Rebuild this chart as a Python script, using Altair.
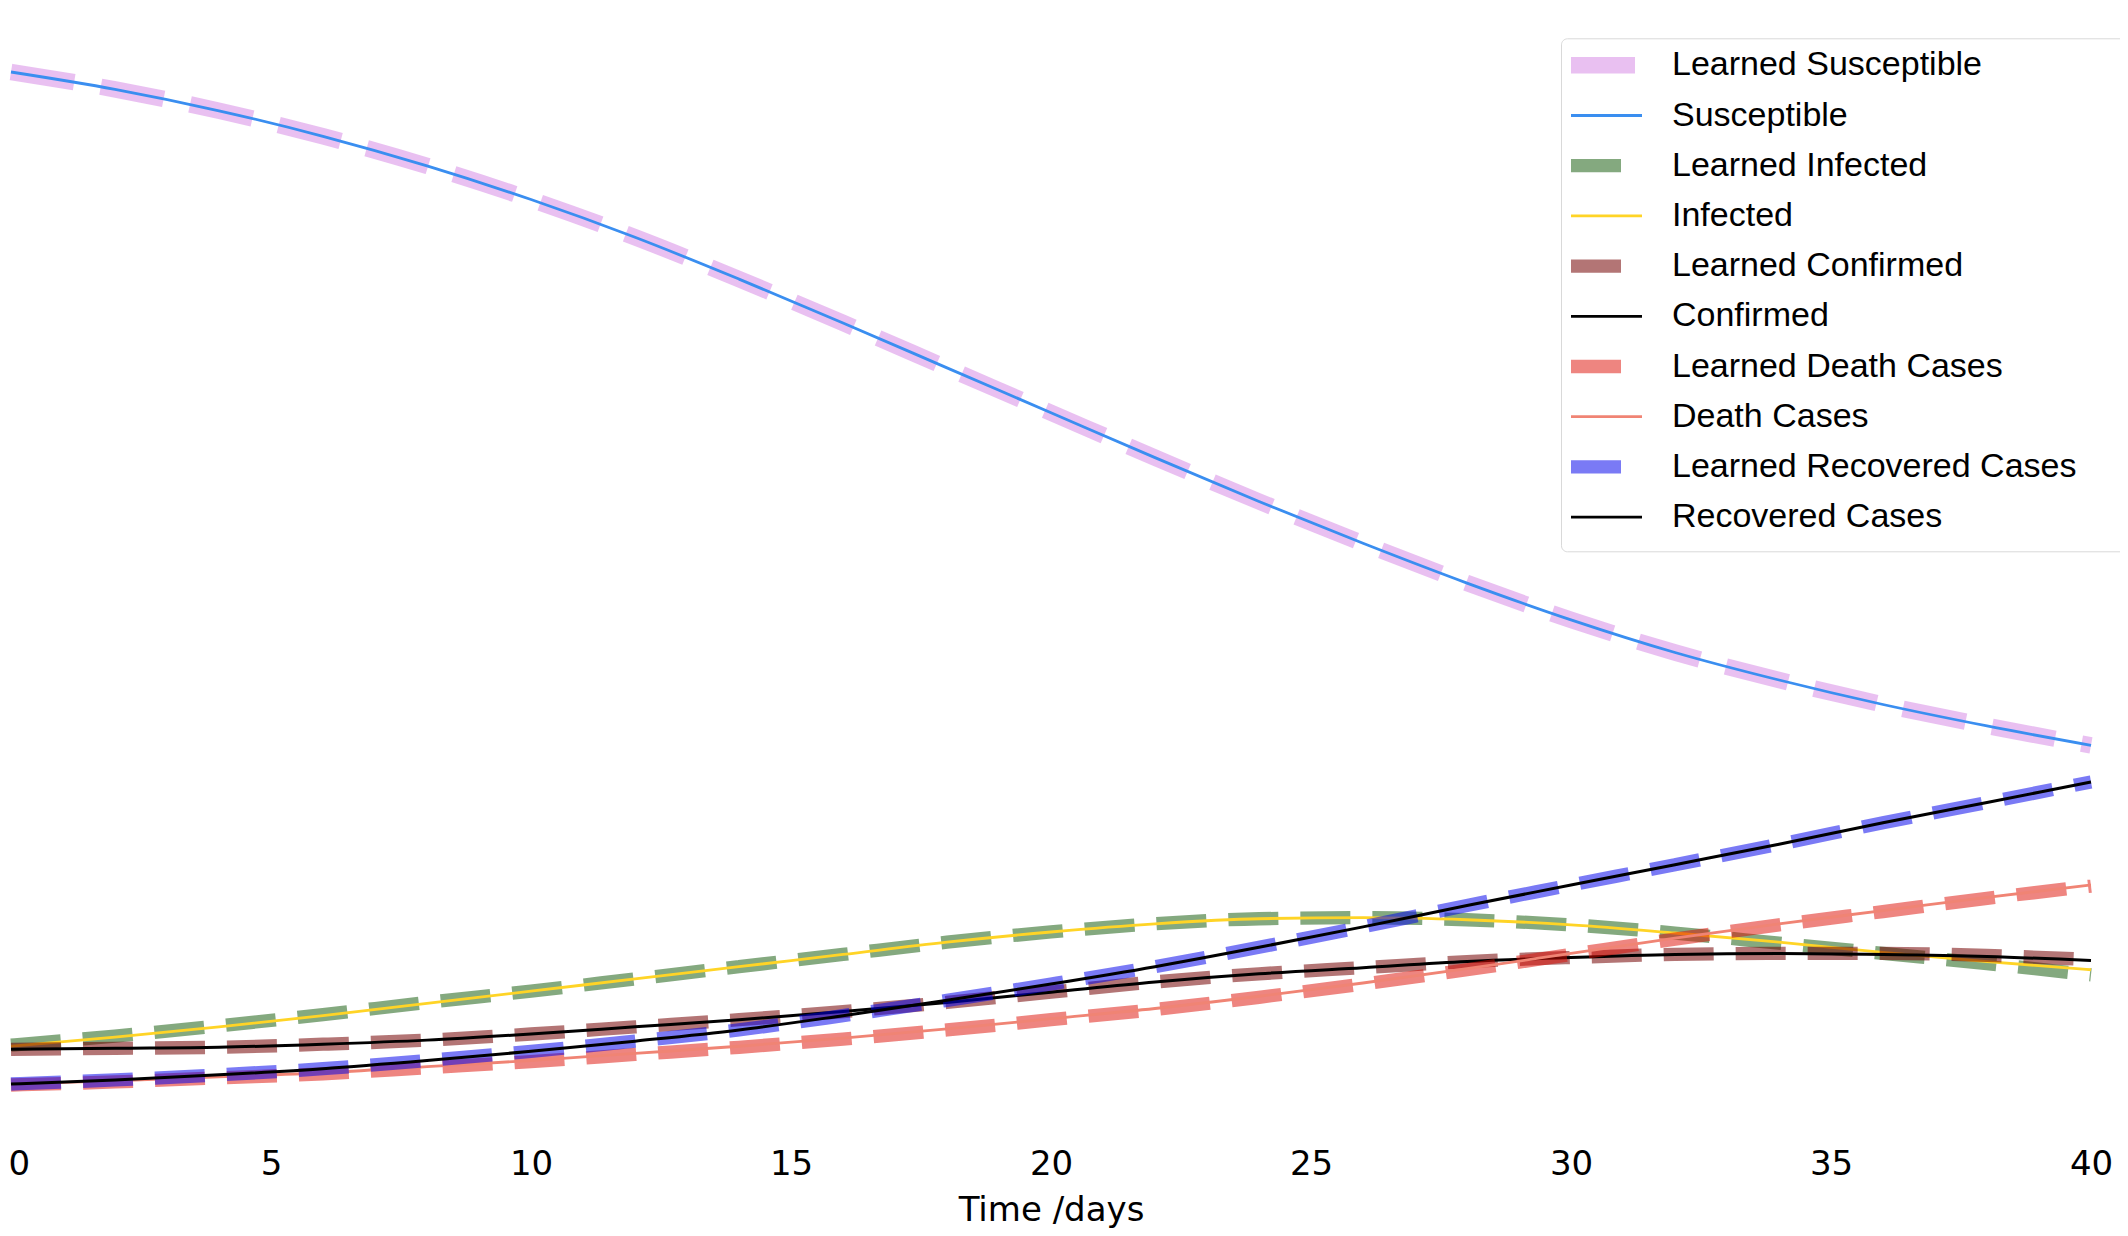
import json
import altair as alt
import pandas as pd

# ---------------- data ----------------
days = [0, 2, 4, 6, 8, 10, 12, 14, 16, 18, 20, 22, 24, 26, 28, 30, 32, 34, 36, 38, 40]

susceptible = [1.000, 0.983, 0.962, 0.937, 0.908, 0.875, 0.838, 0.797, 0.754, 0.710, 0.666,
               0.622, 0.579, 0.538, 0.499, 0.463, 0.431, 0.404, 0.380, 0.359, 0.340]
learned_susceptible = [1.000, 0.983, 0.962, 0.937, 0.908, 0.875, 0.838, 0.797, 0.754, 0.710, 0.666,
                       0.622, 0.579, 0.538, 0.499, 0.463, 0.431, 0.404, 0.380, 0.359, 0.340]

infected = [0.045, 0.054, 0.064, 0.075, 0.087, 0.099, 0.111, 0.123, 0.135, 0.147, 0.157,
            0.165, 0.170, 0.171, 0.169, 0.164, 0.156, 0.147, 0.137, 0.128, 0.120]
learned_infected = [0.046, 0.055, 0.065, 0.076, 0.088, 0.099, 0.111, 0.123, 0.135, 0.147, 0.157,
                    0.165, 0.170, 0.171, 0.169, 0.164, 0.156, 0.146, 0.136, 0.126, 0.115]

confirmed = [0.042, 0.043, 0.044, 0.047, 0.051, 0.057, 0.064, 0.071, 0.079, 0.088, 0.098,
             0.108, 0.116, 0.122, 0.128, 0.132, 0.135, 0.136, 0.135, 0.133, 0.129]
learned_confirmed = [0.042, 0.043, 0.044, 0.047, 0.051, 0.057, 0.064, 0.071, 0.079, 0.088, 0.098,
                     0.108, 0.116, 0.122, 0.128, 0.132, 0.135, 0.136, 0.136, 0.134, 0.130]

death = [0.008, 0.011, 0.015, 0.019, 0.025, 0.031, 0.038, 0.045, 0.053, 0.062, 0.072,
         0.082, 0.094, 0.107, 0.121, 0.136, 0.151, 0.165, 0.178, 0.191, 0.203]
learned_death = [0.007, 0.010, 0.014, 0.018, 0.024, 0.030, 0.037, 0.044, 0.052, 0.061, 0.071,
                 0.081, 0.093, 0.106, 0.120, 0.135, 0.150, 0.164, 0.177, 0.190, 0.202]

recovered = [0.008, 0.012, 0.017, 0.023, 0.031, 0.040, 0.050, 0.061, 0.075, 0.090, 0.106,
             0.123, 0.142, 0.162, 0.183, 0.203, 0.223, 0.243, 0.264, 0.284, 0.304]
learned_recovered = [0.008, 0.012, 0.017, 0.023, 0.031, 0.040, 0.050, 0.061, 0.075, 0.090, 0.106,
                     0.123, 0.142, 0.162, 0.183, 0.203, 0.223, 0.243, 0.264, 0.284, 0.304]

series_names = ["Learned Susceptible", "Susceptible", "Learned Infected", "Infected",
                "Learned Confirmed", "Confirmed", "Learned Death Cases", "Death Cases",
                "Learned Recovered Cases", "Recovered Cases"]
series_values = [learned_susceptible, susceptible, learned_infected, infected,
                 learned_confirmed, confirmed, learned_death, death,
                 learned_recovered, recovered]

tick_values = [0, 5, 10, 15, 20, 25, 30, 35, 40]

# ---------------- styles ----------------
colors = ["rgba(211,129,227,0.5)", "#3A8EF0", "rgba(10,84,0,0.5)", "#FFD426",
          "rgba(115,0,0,0.54)", "#000000", "rgba(221,11,1,0.5)", "#F08474",
          "rgba(0,0,235,0.52)", "#000000"]
widths = [16.5, 2.8, 13.3, 2.8, 13.3, 3.0, 13.3, 2.8, 13.3, 3.0]
dashes = [[64, 27], None, [50, 22], None, [50, 22], None, [50, 22], None, [50, 22], None]

rows = []
for name, vals in zip(series_names, series_values):
    for d, v in zip(days, vals):
        rows.append({"day": d, "value": v, "series": name})
df = pd.DataFrame(rows)

# ---------------- legend handles ----------------
# custom symbol paths are scaled by sqrt(symbolSize)/2 = 8.5 px; handle is 71 px long.
SYM_SIZE = 289
SYM_SCALE = 8.5
HALF_LEN = 35.5
LEG_STROKE = 2.8


def handle_path(dash, thickness):
    x0 = -HALF_LEN
    if dash is None:
        return f"M{x0 / SYM_SCALE:.3f},0H{HALF_LEN / SYM_SCALE:.3f}"
    x1 = x0 + dash[0]
    half = thickness / 2 - LEG_STROKE / 2
    n = int(half * 2 / 1.4) + 1
    parts = []
    for k in range(n + 1):
        y = -half + 2 * half * k / n
        parts.append(f"M{x0 / SYM_SCALE:.3f},{y / SYM_SCALE:.3f}H{x1 / SYM_SCALE:.3f}")
    return "".join(parts)


handle_paths = [handle_path(d, w) for d, w in zip(dashes, widths)]
shape_expr = f"{json.dumps(handle_paths)}[indexof({json.dumps(series_names)}, datum.value)]"

# transparent spacer title: makes the legend box run out past the right edge like the reference
legend_title = "\u2014" * 78

legend = alt.Legend(
    orient="none", legendX=1550, legendY=17.3, direction="vertical",
    symbolType={"expr": shape_expr}, symbolSize=SYM_SIZE, symbolOffset=18.5,
    symbolStrokeWidth=LEG_STROKE,
    labelFont="Liberation Sans", labelFontSize=34, labelColor="#000000",
    labelOffset=48.5, labelLimit=1000,
    rowPadding=16.2, padding=10, fillColor="#ffffff", strokeColor="#d9d9d9", cornerRadius=6,
    titleOrient="bottom", titleFontSize=7, titleColor="rgba(0,0,0,0)", titlePadding=0,
    titleLimit=3000, titleFont="Liberation Sans",
)

x_axis = alt.Axis(
    values=tick_values, format="d", domain=False, ticks=False, tickSize=0, grid=False,
    labelFont="DejaVu Sans", labelFontSize=34, labelColor="#000000", labelPadding=12.5,
    labelAlign={"condition": {"test": "datum.value === 0", "value": "left"}, "value": "center"},
    labelOffset={"condition": {"test": "datum.value === 0", "value": -3}, "value": 0},
    title="Time /days", titleFont="DejaVu Sans", titleFontSize=34, titleFontWeight="normal",
    titleColor="#000000", titlePadding=11.5,
)
x_scale = alt.Scale(domain=[0, 40], nice=False, zero=False)
y_scale = alt.Scale(domain=[-0.042, 1.05], nice=False, zero=False)
color_scale = alt.Scale(domain=series_names, range=colors)

layers = []
for name, w, dash in zip(series_names, widths, dashes):
    enc = dict(
        x=alt.X("day:Q", scale=x_scale, axis=x_axis),
        y=alt.Y("value:Q", scale=y_scale, axis=None),
        color=alt.Color("series:N", scale=color_scale, legend=legend, title=legend_title),
        strokeWidth=alt.value(w),
    )
    if dash is not None:
        enc["strokeDash"] = alt.value(dash)
    layers.append(
        alt.Chart(df)
        .transform_filter(alt.datum.series == name)
        .mark_line(interpolate="monotone")
        .encode(**enc)
    )

chart = (
    alt.layer(*layers)
    .properties(
        width=2080, height=1114,
        autosize=alt.AutoSizeParams(type="none"),
        padding={"left": 3, "top": 13, "right": 29, "bottom": 93},
        background="#ffffff",
    )
    .configure_view(strokeWidth=0)
)

chart.save("out.html", embed_options={"renderer": "svg", "actions": False})
